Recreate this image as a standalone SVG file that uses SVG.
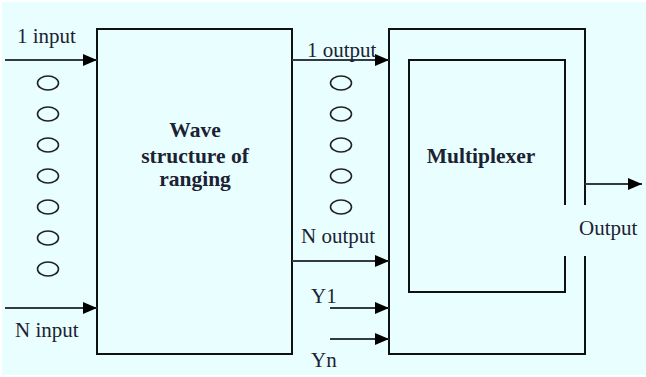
<svg xmlns="http://www.w3.org/2000/svg" width="646" height="377" viewBox="0 0 646 377">
<defs>
<style>
.box{fill:none;stroke:#111;stroke-width:2}
.ln{stroke:#333a44;stroke-width:2;fill:none}
.t{font-family:"Liberation Serif","Times New Roman",serif;font-size:21px;fill:#1c2233}
.b{font-family:"Liberation Serif","Times New Roman",serif;font-size:21.5px;font-weight:bold;fill:#1c2233;text-anchor:middle}
.dot{fill:none;stroke:#222;stroke-width:1.6}
</style>
<marker id="ah" markerWidth="14" markerHeight="12" refX="14" refY="6" orient="auto" markerUnits="userSpaceOnUse">
<path d="M0,0 L14,6 L0,12 Z" fill="#000"/>
</marker>
</defs>
<rect x="0" y="0" width="646" height="377" fill="#fff"/>
<rect x="2" y="2" width="644" height="373" fill="#e9ffff"/>

<g id="wave">
<rect class="box" x="97" y="29" width="195" height="325"/>
<text class="b" x="195" y="137">Wave</text>
<text class="b" x="195" y="163">structure of</text>
<text class="b" x="195" y="186">ranging</text>
</g>

<g id="multiplexer">
<path class="box" d="M585,205 V29 H389 V354 H585 V256"/>
<path class="box" d="M565,205 V60 H409 V292 H565 V256"/>
<text class="b" x="481" y="163">Multiplexer</text>
</g>

<g id="connectors">
<line class="ln" x1="5" y1="60" x2="97" y2="60" marker-end="url(#ah)"/>
<line class="ln" x1="5" y1="308" x2="97" y2="308" marker-end="url(#ah)"/>
<line class="ln" x1="292" y1="60" x2="389" y2="60" marker-end="url(#ah)"/>
<line class="ln" x1="292" y1="261" x2="389" y2="261" marker-end="url(#ah)"/>
<line class="ln" x1="330" y1="308" x2="389" y2="308" marker-end="url(#ah)"/>
<line class="ln" x1="330" y1="339" x2="389" y2="339" marker-end="url(#ah)"/>
<line class="ln" x1="585" y1="184" x2="642" y2="184" marker-end="url(#ah)"/>
</g>

<g id="input-dots">
<ellipse class="dot" cx="48" cy="83" rx="10.5" ry="7"/>
<ellipse class="dot" cx="48" cy="114" rx="10.5" ry="7"/>
<ellipse class="dot" cx="48" cy="145" rx="10.5" ry="7"/>
<ellipse class="dot" cx="48" cy="176" rx="10.5" ry="7"/>
<ellipse class="dot" cx="48" cy="207" rx="10.5" ry="7"/>
<ellipse class="dot" cx="48" cy="238" rx="10.5" ry="7"/>
<ellipse class="dot" cx="48" cy="269" rx="10.5" ry="7"/>
</g>

<g id="output-dots">
<ellipse class="dot" cx="341" cy="83" rx="10.5" ry="7"/>
<ellipse class="dot" cx="341" cy="114" rx="10.5" ry="7"/>
<ellipse class="dot" cx="341" cy="145" rx="10.5" ry="7"/>
<ellipse class="dot" cx="341" cy="176" rx="10.5" ry="7"/>
<ellipse class="dot" cx="341" cy="207" rx="10.5" ry="7"/>
</g>

<g id="labels">
<text class="t" x="17" y="43">1 input</text>
<text class="t" x="15" y="337">N input</text>
<text class="t" x="307" y="57">1 output</text>
<text class="t" x="301" y="243">N output</text>
<text class="t" x="311" y="303">Y1</text>
<text class="t" x="311" y="367">Yn</text>
<text class="t" x="579" y="235">Output</text>
</g>
</svg>
